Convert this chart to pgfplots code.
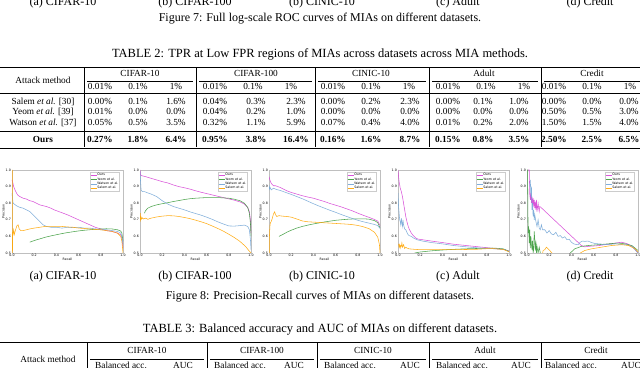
\documentclass[border=0pt]{standalone}
\usepackage{fontspec}
\setmainfont{Liberation Serif}
\newfontfamily\plotfont{DejaVu Sans}
\usepackage{pgfplots}
\pgfplotsset{compat=1.18}

\definecolor{cOurs}{HTML}{D543D5}
\definecolor{cYeom}{HTML}{3A9A3A}
\definecolor{cWatson}{HTML}{74A6D6}
\definecolor{cSalem}{HTML}{FFA500}

\newcommand\tinyfont{\plotfont\fontsize{3.2}{3.6}\selectfont}

\pgfplotsset{
  prplot/.style={
    scale only axis, width=111pt, height=83pt,
    xmin=0, xmax=1, ymin=0.5, ymax=1,
    xtick={0,0.2,0.4,0.6,0.8,1}, ytick={0.5,0.6,0.7,0.8,0.9,1},
    xticklabel={\pgfmathprintnumber[fixed,fixed zerofill,precision=1]{\tick}},
    yticklabel={\pgfmathprintnumber[fixed,fixed zerofill,precision=1]{\tick}},
    /pgf/number format/assume math mode=true,
    tick label style={font=\tinyfont, inner sep=1pt},
    major tick length=0pt,
    axis line style={black!25, line width=0.4pt},
    xlabel={Recall}, ylabel={Precision},
    label style={font=\tinyfont},
    xlabel style={at={(axis description cs:0.5,-0.055)}, anchor=north, inner sep=0pt},
    ylabel style={at={(axis description cs:-0.065,0.5)}, anchor=south, inner sep=0pt},
    legend style={at={(0.97,0.975)}, anchor=north east, font=\tinyfont,
      draw=black!20, inner sep=0.6pt, nodes={inner sep=0.5pt}, row sep=-0.6pt},
    legend cell align=left,
    legend image code/.code={\draw[#1] (0pt,0pt) -- (6pt,0pt);},
    every axis plot/.append style={line width=0.55pt, opacity=0.9},
  },
  ours/.style={cOurs}, yeom/.style={cYeom}, watson/.style={cWatson}, salem/.style={cSalem},
}

\def\xs{{100,138,176,215,256,296,333,371,410,448,483,519,554,592,629}}
\newcommand\tabfont{\fontsize{9.3}{10}\selectfont}
\newcommand\capfont{\fontsize{12}{14}\selectfont}
\newcommand\tcapfont{\fontsize{12.5}{14}\selectfont}
\newcommand\trow[4]{%
  \node[tabtxt,font=\tabfont#4] at (43,367-#1) {#2};
  \foreach \v [count=\i from 0] in {#3}{%
    \pgfmathsetmacro\xx{\xs[\i]}%
    \node[tabtxt,font=\tabfont#4] at (\xx,367-#1) {\v};}}

\begin{document}
\begin{tikzpicture}[x=1pt,y=1pt,
  tabtxt/.style={inner sep=0pt, anchor=mid},
  captxt/.style={inner sep=0pt, anchor=mid, font=\capfont}]
\useasboundingbox (0,0) rectangle (640,367);
\clip (0,0) rectangle (640,367);

% subcaptions of figure 7 (cut at the top)
\foreach \x/\t in {63/(a) CIFAR-10, 195/(b) CIFAR-100, 322/(b) CINIC-10, 458/(c) Adult, 590/(d) Credit}
  \node[captxt] at (\x,367-3) {\t};
\node[captxt] at (320,367-19) {Figure 7: Full log-scale ROC curves of MIAs on different datasets.};

% table 2
\node[captxt,font=\tcapfont] at (320,367-55) {TABLE 2: TPR at Low FPR regions of MIAs across datasets across MIA methods.};
\draw[line width=0.9pt] (0,367-67) -- (640,367-67);
\draw[line width=0.5pt] (0,367-93.5) -- (640,367-93.5);
\draw[line width=0.5pt] (0,367-131) -- (640,367-131);
\draw[line width=0.9pt] (0,367-148) -- (640,367-148);
\foreach \a/\b in {87/193, 199/312, 318/426, 432/538, 544/640}
  \draw[line width=0.4pt] (\a,367-81) -- (\b,367-81);
\foreach \x in {84,196,315,429,541}
  \draw[line width=0.4pt] (\x,367-68) -- (\x,367-147.5);
\node[tabtxt,font=\tabfont] at (43,367-81) {Attack method};
\foreach \x/\t in {140/CIFAR-10, 256/CIFAR-100, 371/CINIC-10, 484/Adult, 592/Credit}
  \node[tabtxt,font=\tabfont] at (\x,367-74) {\t};
\foreach \x in {100,215,333,448,554}{
  \node[tabtxt,font=\tabfont] at (\x,367-87) {0.01\%};
  \node[tabtxt,font=\tabfont] at (\x+38,367-87) {0.1\%};
  \node[tabtxt,font=\tabfont] at (\x+76,367-87) {1\%};}
\trow{102}{Salem \textit{et al.} [30]}{0.00\%,0.1\%,1.6\%,0.04\%,0.3\%,2.3\%,0.00\%,0.2\%,2.3\%,0.00\%,0.1\%,1.0\%,0.00\%,0.0\%,0.0\%}{}
\trow{112.5}{Yeom \textit{et al.} [39]}{0.01\%,0.0\%,0.0\%,0.04\%,0.2\%,1.0\%,0.00\%,0.0\%,0.0\%,0.00\%,0.0\%,0.0\%,0.50\%,0.5\%,3.0\%}{}
\trow{123}{Watson \textit{et al.} [37]}{0.05\%,0.5\%,3.5\%,0.32\%,1.1\%,5.9\%,0.07\%,0.4\%,4.0\%,0.01\%,0.2\%,2.0\%,1.50\%,1.5\%,4.0\%}{}
\trow{140}{Ours}{0.27\%,1.8\%,6.4\%,0.95\%,3.8\%,16.4\%,0.16\%,1.6\%,8.7\%,0.15\%,0.8\%,3.5\%,2.50\%,2.5\%,6.5\%}{\bfseries}

% ---- precision-recall curves ----
\begin{axis}[prplot, at={(12pt,114pt)}, anchor=south west]
\addplot[ours] coordinates {(0,0.94) (0.005,0.93) (0.015,0.90) (0.03,0.875) (0.05,0.85) (0.07,0.84) (0.1,0.83) (0.13,0.825) (0.16,0.815) (0.19,0.81) (0.22,0.80) (0.25,0.79) (0.28,0.785) (0.31,0.78) (0.35,0.77) (0.38,0.76) (0.42,0.75) (0.46,0.74) (0.5,0.73) (0.55,0.715) (0.6,0.70) (0.65,0.685) (0.7,0.67) (0.75,0.655) (0.8,0.645) (0.85,0.635) (0.9,0.63) (0.95,0.62) (0.98,0.61) (0.99,0.59) (1.0,0.53)};
\addplot[yeom] coordinates {(0.16,0.565) (0.2,0.575) (0.25,0.585) (0.3,0.595) (0.35,0.603) (0.4,0.61) (0.45,0.617) (0.5,0.623) (0.55,0.628) (0.6,0.633) (0.65,0.637) (0.7,0.64) (0.75,0.643) (0.8,0.645) (0.85,0.646) (0.9,0.645) (0.95,0.64) (0.98,0.632) (0.99,0.62) (1.0,0.57)};
\addplot[watson] coordinates {(0,0.86) (0.003,0.84) (0.01,0.80) (0.02,0.795) (0.04,0.785) (0.07,0.775) (0.1,0.77) (0.13,0.76) (0.16,0.75) (0.19,0.73) (0.22,0.71) (0.25,0.69) (0.28,0.67) (0.31,0.66) (0.35,0.655) (0.4,0.655) (0.45,0.65) (0.5,0.655) (0.55,0.653) (0.6,0.655) (0.65,0.65) (0.7,0.65) (0.75,0.645) (0.8,0.64) (0.85,0.64) (0.9,0.635) (0.95,0.63) (0.98,0.62) (0.99,0.60) (1.0,0.55)};
\addplot[salem] coordinates {(0.004,1.0) (0.004,0.5) (0.006,0.60) (0.01,0.62) (0.015,0.64) (0.02,0.61) (0.03,0.635) (0.045,0.665) (0.055,0.67) (0.065,0.645) (0.08,0.635) (0.1,0.635) (0.13,0.64) (0.16,0.645) (0.2,0.65) (0.25,0.655) (0.3,0.66) (0.35,0.66) (0.4,0.66) (0.45,0.66) (0.5,0.657) (0.55,0.655) (0.6,0.65) (0.65,0.648) (0.7,0.645) (0.75,0.642) (0.8,0.64) (0.85,0.635) (0.9,0.63) (0.95,0.62) (0.98,0.60) (0.99,0.57) (1.0,0.5)};
\legend{Ours, Yeom et al., Watson et al., Salem et al.}
\end{axis}

\begin{axis}[prplot, at={(140pt,114pt)}, anchor=south west]
\addplot[ours] coordinates {(0,1.0) (0.005,0.97) (0.02,0.965) (0.05,0.96) (0.1,0.95) (0.15,0.94) (0.2,0.93) (0.25,0.922) (0.3,0.91) (0.35,0.9) (0.4,0.893) (0.45,0.885) (0.5,0.875) (0.55,0.866) (0.6,0.858) (0.65,0.85) (0.7,0.842) (0.75,0.834) (0.8,0.826) (0.85,0.818) (0.9,0.808) (0.94,0.795) (0.97,0.775) (0.985,0.75) (0.995,0.7) (1.0,0.62)};
\addplot[yeom] coordinates {(0.04,0.74) (0.05,0.755) (0.07,0.77) (0.1,0.78) (0.15,0.79) (0.2,0.797) (0.25,0.803) (0.3,0.81) (0.35,0.816) (0.4,0.822) (0.45,0.827) (0.5,0.83) (0.55,0.832) (0.6,0.834) (0.65,0.834) (0.7,0.834) (0.75,0.832) (0.8,0.83) (0.85,0.824) (0.9,0.815) (0.94,0.80) (0.97,0.775) (0.985,0.74) (0.995,0.68) (1.0,0.6)};
\addplot[watson] coordinates {(0,0.99) (0.005,0.93) (0.01,0.88) (0.02,0.87) (0.04,0.87) (0.07,0.862) (0.1,0.855) (0.15,0.84) (0.2,0.815) (0.25,0.795) (0.3,0.78) (0.35,0.77) (0.4,0.76) (0.45,0.748) (0.5,0.738) (0.55,0.728) (0.6,0.716) (0.65,0.703) (0.7,0.688) (0.75,0.675) (0.8,0.663) (0.85,0.662) (0.9,0.665) (0.94,0.668) (0.97,0.66) (0.985,0.64) (0.995,0.58) (1.0,0.52)};
\addplot[salem] coordinates {(0,0.70) (0.003,0.74) (0.006,0.70) (0.01,0.715) (0.015,0.705) (0.02,0.712) (0.03,0.705) (0.05,0.71) (0.07,0.703) (0.1,0.71) (0.15,0.717) (0.2,0.722) (0.25,0.725) (0.3,0.724) (0.35,0.72) (0.4,0.714) (0.45,0.707) (0.5,0.698) (0.55,0.688) (0.6,0.677) (0.65,0.663) (0.7,0.648) (0.75,0.632) (0.8,0.613) (0.85,0.593) (0.9,0.57) (0.95,0.54) (0.98,0.515) (1.0,0.5)};
\legend{Ours, Yeom et al., Watson et al., Salem et al.}
\end{axis}

\begin{axis}[prplot, at={(269pt,114pt)}, anchor=south west]
\addplot[ours] coordinates {(0,0.96) (0.01,0.935) (0.02,0.92) (0.04,0.905) (0.06,0.905) (0.08,0.9) (0.1,0.895) (0.13,0.885) (0.16,0.875) (0.2,0.865) (0.25,0.855) (0.3,0.845) (0.35,0.837) (0.4,0.83) (0.45,0.82) (0.5,0.81) (0.55,0.798) (0.6,0.788) (0.65,0.778) (0.7,0.766) (0.75,0.754) (0.8,0.74) (0.85,0.727) (0.9,0.715) (0.95,0.702) (0.98,0.692) (1.0,0.665)};
\addplot[yeom] coordinates {(0.09,0.6) (0.12,0.61) (0.16,0.625) (0.2,0.637) (0.25,0.65) (0.3,0.66) (0.35,0.668) (0.4,0.675) (0.45,0.681) (0.5,0.687) (0.55,0.692) (0.6,0.697) (0.65,0.7) (0.7,0.703) (0.75,0.705) (0.8,0.706) (0.85,0.706) (0.9,0.704) (0.95,0.695) (0.98,0.683) (1.0,0.65)};
\addplot[watson] coordinates {(0,0.91) (0.005,0.885) (0.01,0.895) (0.02,0.88) (0.04,0.89) (0.07,0.882) (0.1,0.877) (0.15,0.865) (0.2,0.853) (0.25,0.84) (0.3,0.827) (0.35,0.812) (0.4,0.797) (0.45,0.783) (0.5,0.77) (0.55,0.757) (0.6,0.745) (0.65,0.732) (0.7,0.72) (0.75,0.708) (0.8,0.697) (0.85,0.688) (0.9,0.68) (0.95,0.672) (0.98,0.665) (1.0,0.648)};
\addplot[salem] coordinates {(0.002,0.5) (0.004,0.6) (0.008,0.66) (0.012,0.68) (0.02,0.69) (0.03,0.71) (0.04,0.735) (0.05,0.748) (0.06,0.73) (0.07,0.72) (0.09,0.725) (0.12,0.722) (0.16,0.72) (0.2,0.716) (0.25,0.705) (0.3,0.693) (0.35,0.688) (0.4,0.686) (0.45,0.684) (0.5,0.682) (0.55,0.68) (0.6,0.678) (0.65,0.676) (0.7,0.674) (0.75,0.671) (0.8,0.666) (0.85,0.658) (0.9,0.647) (0.95,0.625) (0.98,0.595) (0.995,0.55) (1.0,0.5)};
\legend{Ours, Yeom et al., Watson et al., Salem et al.}
\end{axis}

\begin{axis}[prplot, at={(398pt,114pt)}, anchor=south west]
\addplot[ours] coordinates {(0,1.0) (0.005,0.96) (0.01,0.93) (0.02,0.89) (0.03,0.87) (0.04,0.84) (0.05,0.80) (0.06,0.76) (0.07,0.72) (0.08,0.69) (0.09,0.665) (0.1,0.645) (0.12,0.62) (0.14,0.603) (0.16,0.59) (0.18,0.584) (0.22,0.58) (0.3,0.572) (0.4,0.563) (0.5,0.553) (0.6,0.546) (0.7,0.539) (0.8,0.532) (0.9,0.525) (0.95,0.522) (1.0,0.512)};
\addplot[yeom] coordinates {(0.15,0.5) (0.2,0.506) (0.3,0.513) (0.4,0.518) (0.5,0.522) (0.6,0.525) (0.7,0.527) (0.8,0.529) (0.85,0.53) (0.9,0.528) (0.95,0.525) (1.0,0.51)};
\addplot[watson] coordinates {(0,0.86) (0.005,0.78) (0.01,0.74) (0.015,0.70) (0.02,0.69) (0.025,0.67) (0.03,0.71) (0.035,0.68) (0.04,0.66) (0.045,0.70) (0.05,0.67) (0.06,0.645) (0.07,0.64) (0.08,0.625) (0.09,0.612) (0.1,0.605) (0.12,0.6) (0.14,0.59) (0.17,0.58) (0.22,0.572) (0.3,0.563) (0.4,0.555) (0.5,0.545) (0.6,0.538) (0.7,0.532) (0.8,0.528) (0.9,0.524) (0.95,0.522) (1.0,0.51)};
\addplot[salem] coordinates {(0.005,0.555) (0.01,0.535) (0.015,0.55) (0.02,0.53) (0.025,0.545) (0.03,0.54) (0.035,0.56) (0.04,0.535) (0.05,0.55) (0.06,0.527) (0.07,0.535) (0.08,0.53) (0.1,0.525) (0.15,0.522) (0.2,0.52) (0.3,0.52) (0.4,0.52) (0.5,0.52) (0.6,0.521) (0.7,0.522) (0.8,0.526) (0.85,0.527) (0.9,0.524) (0.95,0.521) (1.0,0.507)};
\legend{Ours, Yeom et al., Watson et al., Salem et al.}
\end{axis}

\begin{axis}[prplot, at={(527pt,114pt)}, anchor=south west]
\addplot[ours] coordinates {(0.01,1.0) (0.02,1.0) (0.025,0.85) (0.03,0.82) (0.035,0.86) (0.04,0.80) (0.045,0.84) (0.05,0.79) (0.055,0.83) (0.06,0.78) (0.065,0.82) (0.07,0.77) (0.075,0.81) (0.08,0.76) (0.085,0.82) (0.09,0.75) (0.1,0.80) (0.105,0.77) (0.11,0.75) (0.115,0.78) (0.125,0.775) (0.49,0.545) (0.52,0.537) (0.55,0.54) (0.6,0.542) (0.65,0.545) (0.7,0.55) (0.75,0.555) (0.8,0.56) (0.85,0.565) (0.9,0.557) (0.95,0.538) (1.0,0.5)};
\addplot[yeom] coordinates {(0.002,1.0) (0.005,1.0) (0.01,0.62) (0.015,0.66) (0.02,0.56) (0.025,0.64) (0.03,0.53) (0.035,0.6) (0.04,0.55) (0.045,0.52) (0.05,0.575) (0.055,0.5) (0.06,0.52) (0.065,0.63) (0.07,0.58) (0.075,0.515) (0.08,0.575) (0.085,0.5) (0.09,0.54) (0.1,0.5) (0.11,0.535) (0.12,0.5) (0.13,0.46) (0.38,0.46) (0.39,0.5) (0.43,0.525) (0.49,0.54) (0.55,0.545) (0.64,0.55) (0.73,0.555) (0.82,0.56) (0.885,0.555) (0.945,0.545) (1.0,0.515)};
\addplot[watson] coordinates {(0.025,0.90) (0.03,0.94) (0.035,0.84) (0.04,0.90) (0.045,0.76) (0.05,0.80) (0.055,0.72) (0.06,0.76) (0.065,0.70) (0.07,0.73) (0.08,0.69) (0.09,0.66) (0.1,0.70) (0.11,0.65) (0.12,0.64) (0.13,0.67) (0.14,0.64) (0.16,0.64) (0.18,0.62) (0.2,0.635) (0.22,0.615) (0.24,0.61) (0.26,0.625) (0.28,0.60) (0.3,0.605) (0.32,0.59) (0.34,0.598) (0.36,0.58) (0.38,0.583) (0.4,0.565) (0.42,0.555) (0.44,0.552) (0.46,0.55) (0.48,0.565) (0.5,0.572) (0.52,0.57) (0.55,0.572) (0.58,0.563) (0.62,0.556) (0.66,0.555) (0.7,0.55) (0.75,0.552) (0.8,0.555) (0.85,0.55) (0.9,0.55) (0.95,0.538) (1.0,0.5)};
\addplot[salem] coordinates {(0.13,0.46) (0.145,0.515) (0.16,0.52) (0.175,0.535) (0.19,0.525) (0.205,0.515) (0.225,0.5) (0.25,0.46) (0.46,0.46) (0.48,0.5) (0.52,0.515) (0.58,0.525) (0.67,0.535) (0.76,0.545) (0.855,0.55) (0.915,0.545) (0.975,0.525) (1.0,0.505)};
\legend{Ours, Yeom et al., Watson et al., Salem et al.}
\end{axis}

% subcaptions and caption of figure 8
\foreach \x/\t in {63/(a) CIFAR-10, 195/(b) CIFAR-100, 322/(b) CINIC-10, 458/(c) Adult, 590/(d) Credit}
  \node[captxt] at (\x,367-277) {\t};
\node[captxt] at (320,367-297) {Figure 8: Precision-Recall curves of MIAs on different datasets.};

% table 3 (cut at the bottom)
\node[captxt,font=\tcapfont] at (320,367-330) {TABLE 3: Balanced accuracy and AUC of MIAs on different datasets.};
\draw[line width=0.9pt] (0,367-342) -- (640,367-342);
\foreach \a/\b in {90/204, 210/314, 320/426, 432/538, 544/640}
  \draw[line width=0.4pt] (\a,367-359) -- (\b,367-359);
\foreach \x in {87,207,317,429,541}
  \draw[line width=0.4pt] (\x,367-343) -- (\x,367-372);
\node[tabtxt,font=\tabfont] at (48,367-360) {Attack method};
\foreach \x/\t in {147/CIFAR-10, 262/CIFAR-100, 373/CINIC-10, 485/Adult, 596/Credit}
  \node[tabtxt,font=\tabfont] at (\x,367-351) {\t};
\foreach \x/\t in {121/Balanced acc., 183/AUC, 240/Balanced acc., 294/AUC, 350/Balanced acc., 410/AUC, 462/Balanced acc., 521/AUC, 571/Balanced acc., 631/AUC}
  \node[tabtxt,font=\tabfont] at (\x,367-366) {\t};
\end{tikzpicture}
\end{document}
